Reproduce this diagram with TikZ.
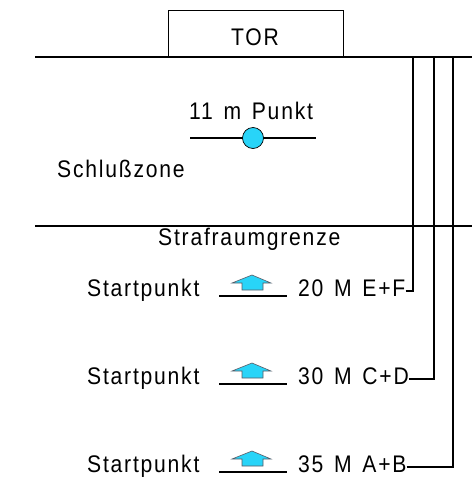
\documentclass[tikz,border=0pt]{standalone}
\usepackage{fontspec}
\setmainfont{Liberation Sans}[LetterSpace=7.4,FakeStretch=0.88,WordSpace=1.4]
\definecolor{ballcyan}{RGB}{40,212,248}
\definecolor{arrowedge}{RGB}{90,90,100}
\begin{document}
\begin{tikzpicture}[x=1pt,y=-1pt,
  lbl/.style={inner sep=0pt,font=\fontsize{24}{28}\selectfont},
  thin line/.style={line width=1.4pt},
  upshape/.style={fill=ballcyan,draw=arrowedge,line width=0.6pt,line join=miter}]
\useasboundingbox (0,0) rectangle (472,496);
% Tor
\node[draw,line width=1pt,minimum width=175pt,minimum height=46pt,inner sep=0pt] (tor) at (255.5,33) {};
\node[lbl,anchor=base] (tortext) at (255,45) {TOR};
% lines
\coordinate (tl) at (35,57);
\coordinate (tr) at (472,57);
\draw[line width=2pt] (tl) -- (tr);
\coordinate (sl) at (35,226);
\coordinate (sr) at (472,226);
\draw[thin line] (sl) -- (sr);
% 11 m Punkt
\node[lbl,anchor=base west] (elf) at (189,119) {11 m Punkt};
\coordinate (pl) at (190,138);
\coordinate (pr) at (316,138);
\draw[thin line] (pl) -- (pr);
\node[circle,fill=ballcyan,draw=black,line width=0.7pt,minimum size=21pt,inner sep=0pt] (ball) at (253,138) {};
\node[lbl,anchor=base west] (schluss) at (57,177) {Schlußzone};
\node[lbl,anchor=base west] (straf) at (158,245) {Strafraumgrenze};
% rows
\foreach \y/\t/\cx [count=\i] in {296/20 M E+F/413, 384/30 M C+D/434, 472/35 M A+B/453}{
  \node[lbl,anchor=base west] (sp\i) at (87,\y) {Startpunkt};
  \coordinate (ul\i) at (219,\y);
  \coordinate (ur\i) at (287,\y);
  \draw[thin line] (ul\i) -- (ur\i);
  \draw[upshape] (252,\y-21) -- (271,\y-13) -- (263,\y-13) -- (263,\y-6) -- (242,\y-6) -- (242,\y-13) -- (232,\y-13) -- cycle;
  \node[lbl,anchor=base west] (lab\i) at (298,\y) {\t};
  \coordinate (top\i) at (\cx,57);
  \draw[thin line] (lab\i.east |- 0,\y-5) -| (top\i);
}
\end{tikzpicture}
\end{document}
